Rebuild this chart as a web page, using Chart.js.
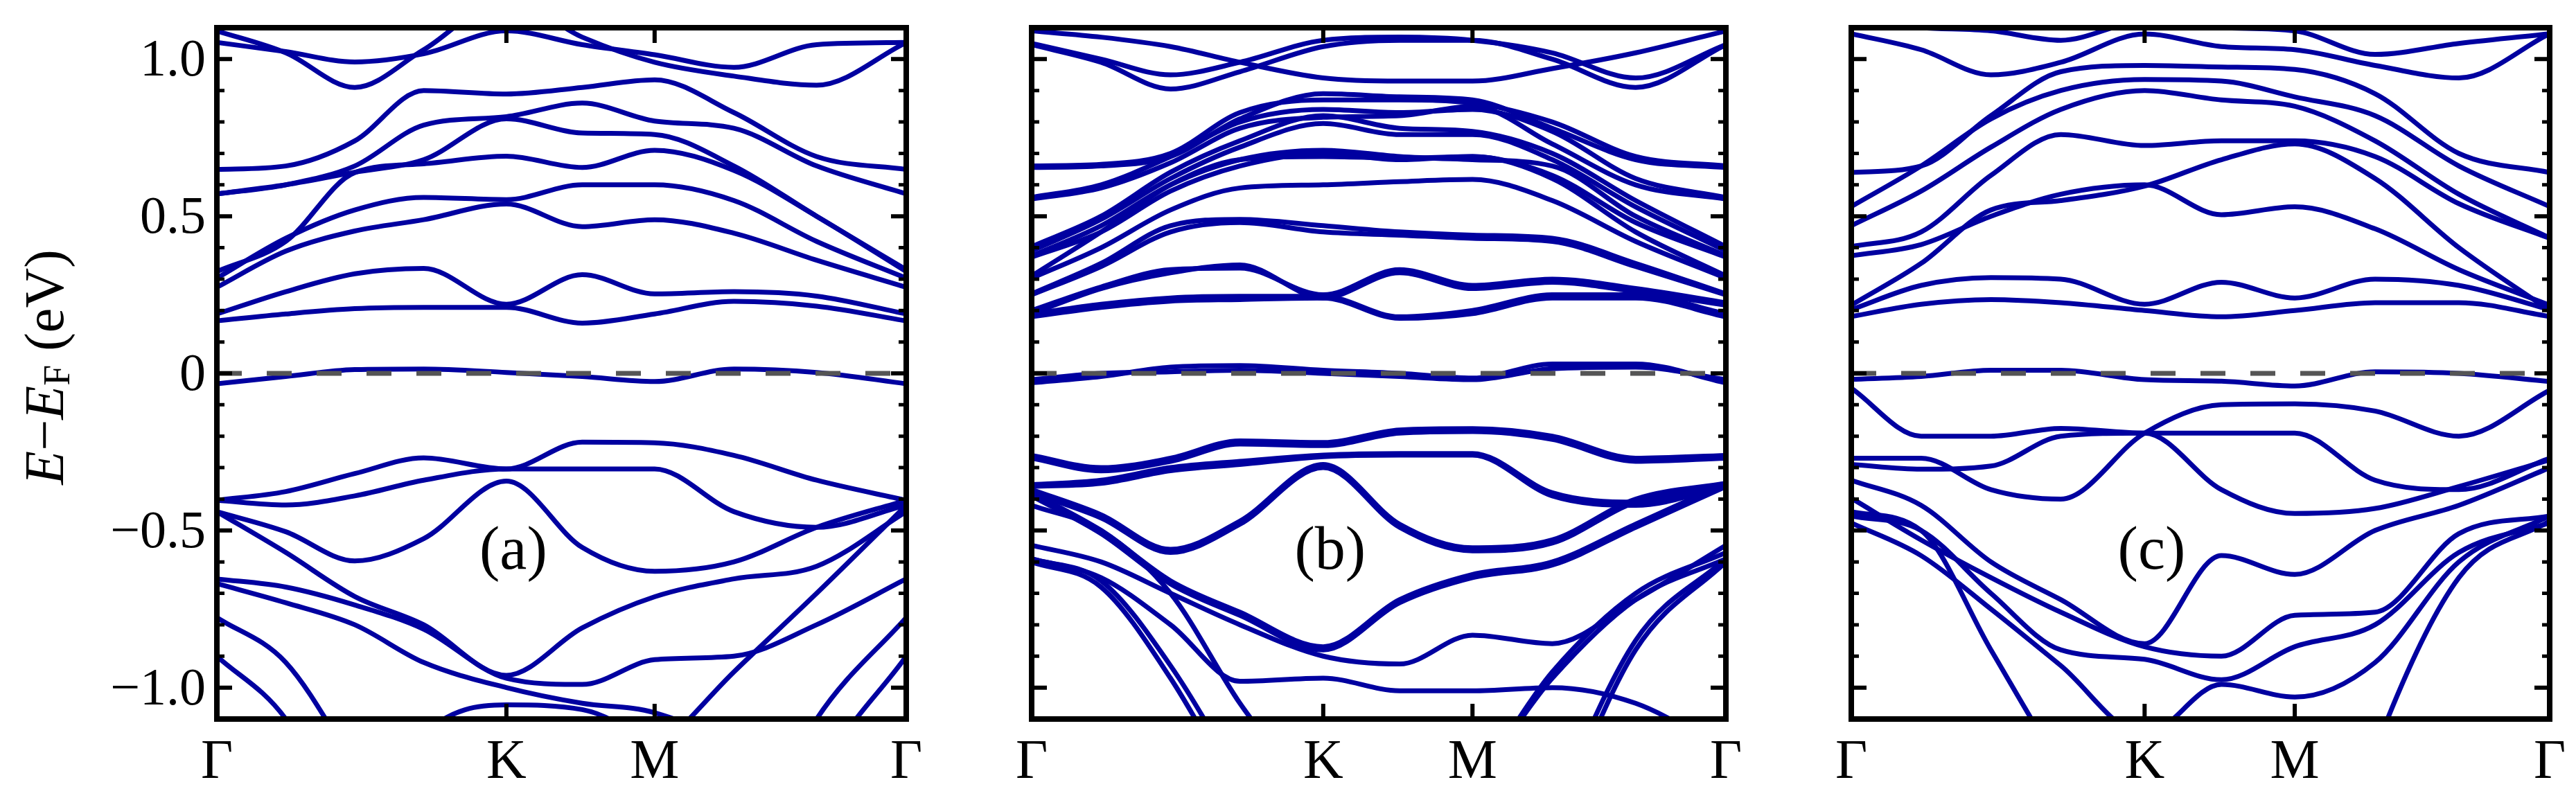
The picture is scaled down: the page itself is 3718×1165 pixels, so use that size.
<!DOCTYPE html>
<html>
<head>
<meta charset="utf-8">
<script src="https://cdn.jsdelivr.net/npm/chart.js"></script>
<style>
  html, body { margin: 0; padding: 0; background: #fff; overflow: hidden; }
  #wrap { position: relative; width: 3718px; height: 1165px; }
  .panel { position: absolute; top: 0; height: 1165px; }
</style>
</head>
<body>
<div id="wrap">
  <div class="panel" id="pa" style="left:0px;width:1350px"><canvas id="chartA"></canvas></div>
  <div class="panel" id="pb" style="left:1447px;width:1086px"><canvas id="chartB"></canvas></div>
  <div class="panel" id="pc" style="left:2630px;width:1088px"><canvas id="chartC"></canvas></div>
</div>
<script>
// k-path positions: Gamma, K, M, Gamma
const kGrid = [0, 0.1, 0.2, 0.3, 0.42, 0.53, 0.635, 0.75, 0.87, 1];
const kTicks = [0, 0.42, 0.635, 1];
const kLabels = ['Γ', 'K', 'M', 'Γ'];
const yTicks = [-1, -0.5, 0, 0.5, 1];
const yLabels = ['−1.0', '−0.5', '0', '0.5', '1.0'];
const fermiLevel = 0;

// bands, energies (eV) at kGrid points
const bandsA = [
  [1.09, 1.02, 0.91, 1.03, 1.19, 1.07, 0.99, 0.946, 0.917, 1.053],
  [1.053, 1.024, 0.991, 1.017, 1.09, 1.046, 1.014, 0.974, 1.046, 1.053],
  [0.649, 0.66, 0.74, 0.9, 0.889, 0.91, 0.934, 0.83, 0.69, 0.649],
  [0.571, 0.6, 0.66, 0.79, 0.817, 0.86, 0.803, 0.78, 0.66, 0.571],
  [0.571, 0.6, 0.64, 0.68, 0.81, 0.765, 0.76, 0.66, 0.5, 0.33],
  [0.324, 0.42, 0.639, 0.667, 0.691, 0.655, 0.71, 0.646, 0.5, 0.324],
  [0.303, 0.43, 0.52, 0.56, 0.553, 0.6, 0.6, 0.55, 0.42, 0.303],
  [0.274, 0.389, 0.453, 0.489, 0.539, 0.467, 0.489, 0.446, 0.36, 0.274],
  [0.189, 0.26, 0.317, 0.334, 0.22, 0.314, 0.253, 0.26, 0.246, 0.189],
  [0.167, 0.189, 0.206, 0.21, 0.21, 0.16, 0.189, 0.229, 0.214, 0.167],
  [-0.033, -0.01, 0.012, 0.014, 0.003, -0.01, -0.026, 0.014, 0.003, -0.033],
  [-0.404, -0.376, -0.319, -0.269, -0.304, -0.219, -0.221, -0.261, -0.34, -0.404],
  [-0.404, -0.419, -0.39, -0.34, -0.304, -0.304, -0.304, -0.44, -0.49, -0.419],
  [-0.44, -0.504, -0.597, -0.526, -0.343, -0.554, -0.63, -0.6, -0.49, -0.404],
  [-0.44, -0.57, -0.71, -0.8, -0.961, -0.81, -0.711, -0.654, -0.614, -0.44],
  [-0.654, -0.68, -0.737, -0.814, -0.97, -0.99, -0.911, -0.9, -0.8, -0.654],
  [-0.669, -0.73, -0.8, -0.92, -1.0, -1.05, -1.08, -1.2, -1.5, -1.8],
  [-1.8, -1.8, -1.8, -1.6, -1.4, -1.3, -1.2, -0.95, -0.7, -0.42],
  [-0.777, -0.92, -1.25, -1.6, -2, -2, -2, -1.6, -1.1, -0.777],
  [-0.9, -1.1, -1.5, -2, -2, -2, -2, -2, -1.3, -0.9],
  [-2, -1.8, -1.5, -1.15, -1.055, -1.07, -1.2, -1.5, -2, -2]
];

const bandsB = [
  [1.046, 0.99, 0.905, 0.96, 1.04, 1.06, 1.06, 1.0, 0.91, 1.046],
  [1.05, 1.0, 0.95, 0.99, 1.06, 1.07, 1.06, 1.02, 0.94, 1.046],
  [1.09, 1.07, 1.04, 0.99, 0.94, 0.93, 0.93, 0.97, 1.02, 1.09],
  [0.66, 0.665, 0.70, 0.83, 0.87, 0.87, 0.86, 0.80, 0.69, 0.66],
  [0.655, 0.66, 0.69, 0.81, 0.89, 0.88, 0.87, 0.78, 0.68, 0.655],
  [0.56, 0.6, 0.69, 0.8, 0.84, 0.83, 0.84, 0.77, 0.62, 0.56],
  [0.555, 0.59, 0.67, 0.78, 0.815, 0.82, 0.85, 0.73, 0.6, 0.555],
  [0.403, 0.5, 0.64, 0.74, 0.82, 0.78, 0.77, 0.7, 0.55, 0.403],
  [0.39, 0.49, 0.62, 0.72, 0.795, 0.76, 0.76, 0.68, 0.53, 0.39],
  [0.374, 0.47, 0.6, 0.68, 0.71, 0.69, 0.68, 0.66, 0.5, 0.374],
  [0.37, 0.45, 0.58, 0.66, 0.70, 0.68, 0.69, 0.63, 0.48, 0.37],
  [0.31, 0.45, 0.6, 0.68, 0.69, 0.685, 0.69, 0.62, 0.45, 0.31],
  [0.303, 0.4, 0.52, 0.59, 0.6, 0.61, 0.617, 0.55, 0.42, 0.303],
  [0.253, 0.35, 0.47, 0.49, 0.47, 0.45, 0.44, 0.43, 0.35, 0.253],
  [0.25, 0.34, 0.45, 0.48, 0.45, 0.44, 0.43, 0.42, 0.34, 0.25],
  [0.19, 0.27, 0.32, 0.345, 0.24, 0.32, 0.27, 0.29, 0.26, 0.217],
  [0.2, 0.275, 0.33, 0.335, 0.25, 0.33, 0.28, 0.3, 0.27, 0.225],
  [0.189, 0.22, 0.24, 0.245, 0.245, 0.18, 0.2, 0.25, 0.25, 0.189],
  [0.18, 0.21, 0.23, 0.235, 0.24, 0.175, 0.19, 0.24, 0.24, 0.18],
  [-0.03, -0.01, 0.02, 0.025, 0.01, 0.0, -0.015, 0.03, 0.03, -0.03],
  [-0.02, 0.0, 0.005, 0.01, 0.0, -0.01, -0.02, 0.015, 0.02, -0.02],
  [-0.261, -0.3, -0.27, -0.215, -0.22, -0.18, -0.176, -0.2, -0.27, -0.261],
  [-0.27, -0.31, -0.28, -0.225, -0.23, -0.19, -0.185, -0.21, -0.28, -0.27],
  [-0.354, -0.34, -0.3, -0.28, -0.26, -0.255, -0.255, -0.38, -0.41, -0.35],
  [-0.36, -0.35, -0.31, -0.29, -0.265, -0.26, -0.26, -0.39, -0.42, -0.36],
  [-0.37, -0.45, -0.56, -0.47, -0.29, -0.48, -0.555, -0.53, -0.4, -0.35],
  [-0.38, -0.46, -0.57, -0.48, -0.3, -0.49, -0.565, -0.54, -0.41, -0.36],
  [-0.38, -0.5, -0.66, -0.76, -0.87, -0.72, -0.64, -0.6, -0.48, -0.35],
  [-0.39, -0.51, -0.67, -0.77, -0.88, -0.73, -0.65, -0.61, -0.49, -0.36],
  [-0.547, -0.6, -0.7, -0.8, -0.9, -0.925, -0.833, -0.86, -0.72, -0.547],
  [-0.59, -0.65, -0.8, -0.98, -0.97, -1.01, -1.01, -1.0, -1.05, -1.2],
  [-2, -2, -2, -1.8, -1.6, -1.45, -1.3, -0.95, -0.7, -0.57],
  [-2, -2, -2, -1.8, -1.6, -1.45, -1.3, -0.97, -0.72, -0.59],
  [-0.59, -0.66, -0.93, -1.3, -1.8, -2, -2, -2, -2, -2],
  [-0.6, -0.68, -0.97, -1.35, -1.8, -2, -2, -2, -2, -2],
  [-2, -2, -2, -2, -2, -2, -2, -1.4, -0.85, -0.59],
  [-2, -2, -2, -2, -2, -2, -2, -1.45, -0.88, -0.6],
  [-0.42, -0.5, -0.7, -1.05, -1.4, -1.8, -2, -2, -2, -2]
];

const bandsC = [
  [1.081, 1.03, 0.95, 0.99, 1.08, 1.04, 1.03, 0.98, 0.94, 1.081],
  [1.12, 1.1, 1.09, 1.06, 1.12, 1.1, 1.09, 1.015, 1.05, 1.081],
  [0.639, 0.66, 0.82, 0.96, 0.98, 0.975, 0.967, 0.89, 0.7, 0.639],
  [0.531, 0.66, 0.81, 0.9, 0.935, 0.93, 0.88, 0.82, 0.66, 0.531],
  [0.47, 0.58, 0.72, 0.84, 0.9, 0.87, 0.85, 0.74, 0.57, 0.431],
  [0.403, 0.45, 0.63, 0.76, 0.725, 0.74, 0.74, 0.69, 0.54, 0.43],
  [0.374, 0.41, 0.5, 0.57, 0.6, 0.505, 0.53, 0.46, 0.33, 0.217],
  [0.217, 0.35, 0.52, 0.55, 0.596, 0.68, 0.73, 0.62, 0.4, 0.2],
  [0.203, 0.28, 0.305, 0.3, 0.22, 0.29, 0.24, 0.3, 0.28, 0.203],
  [0.181, 0.22, 0.235, 0.225, 0.2, 0.18, 0.2, 0.225, 0.225, 0.181],
  [-0.019, -0.01, 0.01, 0.01, -0.02, -0.025, -0.04, 0.005, 0.0, -0.026],
  [-0.29, -0.305, -0.295, -0.2, -0.19, -0.37, -0.446, -0.43, -0.36, -0.275],
  [-0.27, -0.27, -0.37, -0.4, -0.19, -0.1, -0.097, -0.12, -0.2, -0.054],
  [-0.047, -0.2, -0.2, -0.175, -0.19, -0.19, -0.19, -0.34, -0.37, -0.27],
  [-0.34, -0.42, -0.6, -0.72, -0.86, -0.58, -0.64, -0.5, -0.42, -0.3],
  [-0.397, -0.53, -0.65, -0.76, -0.87, -0.9, -0.77, -0.76, -0.51, -0.454],
  [-0.454, -0.5, -0.7, -0.88, -0.91, -0.975, -0.87, -0.8, -0.57, -0.476],
  [-0.476, -0.58, -0.75, -0.93, -1.15, -0.99, -1.03, -0.92, -0.6, -0.454],
  [-0.44, -0.5, -0.88, -1.25, -1.6, -2, -2, -2, -2, -2],
  [-2, -2, -2, -2, -2, -2, -2, -1.2, -0.65, -0.47]
];

const BAND_COLOR = '#0000a0';
const SERIF = '"Liberation Serif", "DejaVu Serif", serif';

const framePlugin = {
  id: 'frame',
  afterDatasetsDraw(chart, args, opts) {
    const ctx = chart.ctx;
    const a = chart.chartArea;
    const y = chart.scales.y;
    const x = chart.scales.x;
    ctx.save();
    ctx.strokeStyle = '#000';
    // minor ticks every 0.1, major every 0.5
    for (let i = -10; i <= 10; i++) {
      const py = y.getPixelForValue(i / 10);
      const len = (i % 5 === 0) ? 22 : 11;
      ctx.lineWidth = (i % 5 === 0) ? 6 : 5;
      ctx.beginPath();
      ctx.moveTo(a.left, py); ctx.lineTo(a.left + len, py);
      ctx.moveTo(a.right, py); ctx.lineTo(a.right - len, py);
      ctx.stroke();
    }
    ctx.lineWidth = 6;
    [kTicks[1], kTicks[2]].forEach(k => {
      const px = x.getPixelForValue(k);
      ctx.beginPath();
      ctx.moveTo(px, a.top); ctx.lineTo(px, a.top + 22);
      ctx.moveTo(px, a.bottom); ctx.lineTo(px, a.bottom - 22);
      ctx.stroke();
    });
    ctx.lineWidth = 8;
    ctx.strokeRect(a.left, a.top, a.right - a.left, a.bottom - a.top);
    // panel label
    ctx.fillStyle = '#000';
    ctx.font = '88px ' + SERIF;
    ctx.textAlign = 'center';
    ctx.textBaseline = 'middle';
    ctx.fillText(opts.label, x.getPixelForValue(0.43), y.getPixelForValue(-0.57));
    if (opts.yTitle) {
      // y tick labels
      ctx.font = '76px ' + SERIF;
      ctx.textAlign = 'right';
      yTicks.forEach((v, i) => {
        ctx.fillText(yLabels[i], a.left - 16, y.getPixelForValue(v) + 4);
      });
      ctx.translate(70, y.getPixelForValue(0.02));
      ctx.rotate(-Math.PI / 2);
      const parts = [
        ['italic 80px ' + SERIF, 'E', 0],
        ['80px ' + SERIF, '−', 0],
        ['italic 80px ' + SERIF, 'E', 0],
        ['54px ' + SERIF, 'F', 16],
        ['80px ' + SERIF, ' (eV)', 0]
      ];
      let total = 0;
      parts.forEach(p => { ctx.font = p[0]; total += ctx.measureText(p[1]).width; });
      let cx = -total / 2;
      ctx.textAlign = 'left';
      parts.forEach(p => {
        ctx.font = p[0];
        ctx.fillText(p[1], cx, p[2]);
        cx += ctx.measureText(p[1]).width;
      });
    }
    ctx.restore();
  }
};

function makePanel(id, bands, label, showY, padL, padR) {
  const datasets = bands.map(b => ({
    data: kGrid.map((k, i) => ({ x: k, y: b[i] })),
    borderColor: BAND_COLOR,
    borderWidth: 7,
    pointRadius: 0,
    cubicInterpolationMode: 'monotone',
    fill: false
  }));
  datasets.unshift({
    data: [{ x: 0, y: fermiLevel }, { x: 1, y: fermiLevel }],
    borderColor: '#555555',
    borderWidth: 7,
    borderDash: [36, 36],
    pointRadius: 0,
    fill: false
  });
  return new Chart(document.getElementById(id), {
    type: 'line',
    data: { datasets },
    plugins: [framePlugin],
    options: {
      responsive: true,
      maintainAspectRatio: false,
      animation: false,
      layout: { padding: { top: 40, left: padL, right: padR, bottom: 0 } },
      plugins: {
        legend: { display: false },
        tooltip: { enabled: false },
        frame: { label: label, yTitle: showY }
      },
      scales: {
        x: {
          type: 'linear', min: 0, max: 1,
          grid: { display: false },
          border: { display: false },
          afterBuildTicks: s => { s.ticks = kTicks.map(v => ({ value: v })); },
          afterFit: s => { s.height = 127; },
          ticks: {
            autoSkip: false, maxRotation: 0, padding: 8,
            color: '#000',
            font: { family: SERIF, size: 80 },
            callback: (v) => kLabels[kTicks.indexOf(v)]
          }
        },
        y: {
          min: -1.1, max: 1.1,
          display: false
        }
      }
    }
  });
}

makePanel('chartA', bandsA, '(a)', true, 313, 42);
makePanel('chartB', bandsB, '(b)', false, 42, 42);
makePanel('chartC', bandsC, '(c)', false, 42, 38);
</script>
</body>
</html>
